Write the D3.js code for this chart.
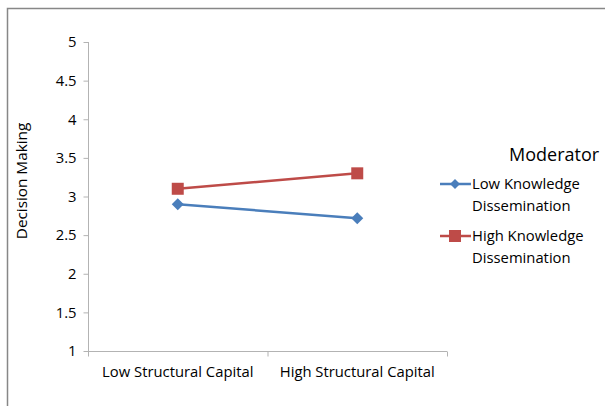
<!DOCTYPE html>
<html>
<head>
<meta charset="utf-8">
<script src="https://cdn.jsdelivr.net/npm/d3@7/dist/d3.min.js"></script>
<style>
  html, body { margin: 0; padding: 0; background: #fff; }
  svg { display: block; }
  text { font-family: "Open Sans", Lato, sans-serif; fill: #000; }
</style>
</head>
<body>
<svg id="chart" width="605" height="406"></svg>
<script>
// Interaction plot: decision making by structural capital, split by moderator
const categories = ["Low Structural Capital", "High Structural Capital"];
const seriesNames = ["Low Knowledge Dissemination", "High Knowledge Dissemination"];
const lowKnowledge = [2.90, 2.72];
const highKnowledge = [3.10, 3.30];
const yTicks = [1, 1.5, 2, 2.5, 3, 3.5, 4, 4.5, 5];
const legendLines = [["Low Knowledge", "Dissemination"], ["High Knowledge", "Dissemination"]];
const colors = ["#4a7ebb", "#be4b48"];
const FONT = "'Open Sans', Lato, sans-serif";
const FS = 14.8;

const svg = d3.select("#chart");

// outer chart frame
svg.append("path")
  .attr("d", "M7.5,406 V8.5 H605")
  .attr("fill", "none")
  .attr("stroke", "#878787")
  .attr("stroke-width", 1.5);

const plot = { left: 88, right: 447, top: 42, bottom: 351 };

const x = d3.scaleBand().domain(categories).range([plot.left, plot.right]);
const y = d3.scaleLinear().domain([1, 5]).range([plot.bottom, plot.top]);

// y axis
const yAxis = svg.append("g")
  .attr("transform", `translate(${plot.left + 0.5},0)`)
  .call(d3.axisLeft(y).tickValues(yTicks).tickSize(5).tickPadding(7)
    .tickFormat(d => String(d)));
yAxis.select(".domain").attr("stroke", "#b3b3b3").attr("d", `M0,${plot.top} V${plot.bottom}`);
yAxis.selectAll(".tick line").attr("stroke", "#b3b3b3");
yAxis.selectAll(".tick text").attr("font-size", FS).attr("font-family", FONT).attr("fill", "#000");

// x axis
const xAxis = svg.append("g")
  .attr("transform", `translate(0,${plot.bottom + 0.5})`)
  .call(d3.axisBottom(x).tickSize(0).tickPadding(15));
xAxis.select(".domain").attr("stroke", "#b3b3b3").attr("d", `M${plot.left},0 H${plot.right}`);
xAxis.selectAll(".tick text").attr("font-size", FS).attr("font-family", FONT).attr("fill", "#000");
// category separators
const sepPos = [plot.left, (plot.left + plot.right) / 2, plot.right];
xAxis.selectAll(".sep").data(sepPos).join("line")
  .attr("x1", d => d + 0.5).attr("x2", d => d + 0.5)
  .attr("y1", 0).attr("y2", 5)
  .attr("stroke", "#b3b3b3");

// y title
svg.append("text")
  .attr("transform", `translate(27,181) rotate(-90)`)
  .attr("text-anchor", "middle")
  .attr("font-size", FS + 0.5)
  .text("Decision Making");

const cx = c => x(c) + x.bandwidth() / 2;
const line = d3.line().x((d, i) => cx(categories[i])).y(d => y(d));
// Excel-style markers: rotated square diamond and plain square
const diamondPath = "M0,-6L6,0L0,6L-6,0Z";
const squarePath = "M-6,-6H6V6H-6Z";

[lowKnowledge, highKnowledge].forEach((vals, s) => {
  svg.append("path")
    .datum(vals)
    .attr("d", line)
    .attr("fill", "none")
    .attr("stroke", colors[s])
    .attr("stroke-width", 2.5);
  svg.selectAll(null).data(vals).join("path")
    .attr("transform", (d, i) => `translate(${cx(categories[i])},${y(d)})`)
    .attr("d", s === 0 ? diamondPath : squarePath)
    .attr("fill", colors[s]);
});

// legend
const legend = svg.append("g");
legend.append("text")
  .attr("x", 509).attr("y", 161)
  .attr("font-size", 18)
  .text("Moderator");

const legendY = [184, 236];
seriesNames.forEach((name, s) => {
  const g = legend.append("g").attr("transform", `translate(0,${legendY[s]})`);
  g.append("line").attr("x1", 440).attr("x2", 471).attr("y1", 0).attr("y2", 0)
    .attr("stroke", colors[s]).attr("stroke-width", 2.5);
  g.append("path").attr("transform", "translate(455,0)")
    .attr("d", s === 0 ? "M0,-5L5,0L0,5L-5,0Z" : "M-6,-6H6V6H-6Z").attr("fill", colors[s]);
  g.append("text").attr("x", 472).attr("y", 5).attr("font-size", FS)
    .selectAll("tspan").data(legendLines[s]).join("tspan")
    .attr("x", 472).attr("dy", (d, i) => i === 0 ? 0 : 21.5)
    .text(d => d);
});
</script>
</body>
</html>
